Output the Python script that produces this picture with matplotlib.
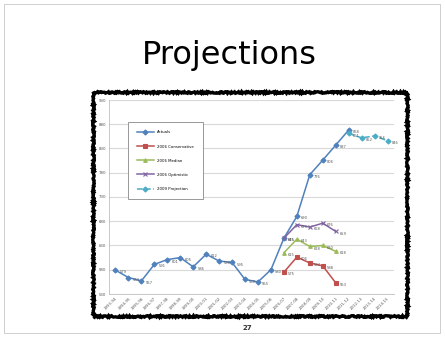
import numpy as np
import matplotlib
matplotlib.use('Agg')
import matplotlib.pyplot as plt
from matplotlib.patches import Rectangle

# fiscal years on the x axis
years = ['%d-%02d' % (y, (y + 1) % 100) for y in range(1993, 2015)]

# actual enrolment, 1993-94 .. 2011-12
actuals = [579, 564, 557, 591, 601, 605, 586, 612, 598, 595, 560, 555,
           580, 645, 690, 776, 806, 837, 868]

# 2006 projections, 2006-07 .. 2010-11
cons06 = [575, 606, 594, 588, 553]
median06 = [615, 643, 628, 630, 618]
optim06 = [645, 673, 668, 676, 659]

# 2009 projection, 2011-12 .. 2014-15
proj09 = [861, 852, 856, 846]

start06 = years.index('2006-07')
start09 = years.index('2011-12')

fig = plt.figure(figsize=(4.45, 3.37), dpi=100)
fig.patch.set_facecolor('white')

# slide frame, title and page number
fig.patches.append(Rectangle((4 / 445, 4 / 337), 436 / 445, 329 / 337,
                             transform=fig.transFigure, fill=False,
                             edgecolor='#c8c8c8', linewidth=0.6))
fig.text(0.515, 0.835, 'Projections', ha='center', va='center',
         fontsize=23, family='DejaVu Sans', color='black')
fig.text(0.555, 0.027, '27', ha='center', va='center', fontsize=5,
         fontweight='bold', color='#333333')

# rough black frame around the chart
frame = Rectangle((93 / 445, 21 / 337), 314 / 445, 224 / 337,
                  transform=fig.transFigure, fill=False,
                  edgecolor='black', linewidth=2.4)
frame.set_sketch_params(scale=0.8, length=1.5, randomness=2)
fig.patches.append(frame)

ax = fig.add_axes([109 / 445, 43 / 337, 285 / 445, 194 / 337])
x = np.arange(len(years))

series = [
    ('Actuals', x[:len(actuals)], actuals, '#4f81bd', '-', 'D'),
    ('2006 Conservative', x[start06:start06 + 5], cons06, '#c0504d', '-', 's'),
    ('2006 Median', x[start06:start06 + 5], median06, '#9bbb59', '-', '^'),
    ('2006 Optimistic', x[start06:start06 + 5], optim06, '#8064a2', '-', 'x'),
    ('2009 Projection', x[start09:start09 + 4], proj09, '#4bacc6', '--', 'D'),
]

for name, xs, ys, col, ls, mk in series:
    ax.plot(xs, ys, color=col, linestyle=ls, linewidth=1.1, marker=mk,
            markersize=2.6, markeredgewidth=0.8, label=name, zorder=3)
    for xi, yi in zip(xs, ys):
        ax.annotate(str(yi), (xi, yi), xytext=(3, -1.5), textcoords='offset points',
                    fontsize=2.6, color='#555555', va='center', ha='left')

ax.set_xlim(-0.5, len(years) - 0.5)
ax.set_ylim(530, 930)
ax.set_yticks(np.arange(530, 931, 50))
ax.set_xticks(x)
ax.set_xticklabels(years, rotation=45, ha='right', rotation_mode='anchor')
ax.tick_params(axis='both', labelsize=2.8, length=0, colors='#555555', pad=2)
ax.grid(axis='y', color='#d9d9d9', linewidth=0.8)
ax.set_axisbelow(True)
for side in ['top', 'right']:
    ax.spines[side].set_visible(False)
ax.spines['left'].set_color('#bfbfbf')
ax.spines['bottom'].set_color('#bfbfbf')
ax.spines['left'].set_linewidth(0.6)
ax.spines['bottom'].set_linewidth(0.6)

leg = ax.legend(loc='upper left', bbox_to_anchor=(0.067, 0.887), fontsize=2.8,
                labelspacing=2.6, borderpad=2.2, handlelength=4.5,
                fancybox=False, edgecolor='#888888', framealpha=1,
                borderaxespad=0)
leg.get_frame().set_linewidth(0.6)

fig.savefig('out.png', dpi=100, facecolor='white')
